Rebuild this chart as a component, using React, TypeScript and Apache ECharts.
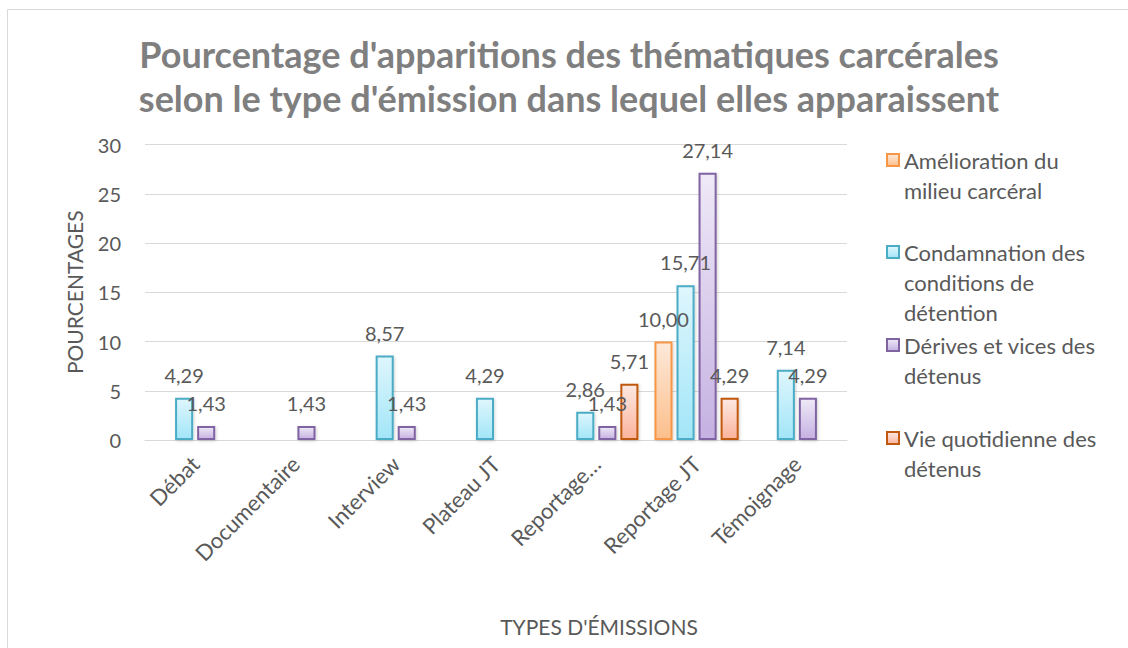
import React, { useEffect, useRef } from "react";
import * as echarts from "echarts";

const categories = ["Débat", "Documentaire", "Interview", "Plateau JT", "Reportage…", "Reportage JT", "Témoignage"];
const seriesNames = [
  "Amélioration du milieu carcéral",
  "Condamnation des conditions de détention",
  "Dérives et vices des détenus",
  "Vie quotidienne des détenus",
];
const legendLabels = [
  "Amélioration du\nmilieu carcéral",
  "Condamnation des\nconditions de\ndétention",
  "Dérives et vices des\ndétenus",
  "Vie quotidienne des\ndétenus",
];
const amelioration = [null, null, null, null, null, 10.0, null];
const condamnation = [4.29, null, 8.57, 4.29, 2.86, 15.71, 7.14];
const derives = [1.43, 1.43, 1.43, null, 1.43, 27.14, 4.29];
const vieQuotidienne = [null, null, null, null, 5.71, 4.29, null];
const yTicks = [0, 5, 10, 15, 20, 25, 30];

const seriesData = [amelioration, condamnation, derives, vieQuotidienne];
const palettes = [
  { border: "#f79646", top: "#fde9da", bottom: "#fcbf8b" },
  { border: "#4bacc6", top: "#dff6fd", bottom: "#a2e6f8" },
  { border: "#8064a2", top: "#efe9f7", bottom: "#c5b1e2" },
  { border: "#c0580f", top: "#fde9e3", bottom: "#fbb39b" },
];

const FONT = "Lato";
const GRAY = "#595959";

export default function App() {
  const ref = useRef<HTMLDivElement>(null);
  useEffect(() => {
    if (!ref.current) return;
    const chart = echarts.init(ref.current, null, { renderer: "svg" });
    const lineH = 30;
    const iconCenters = [160, 252, 345, 438];
    const legends = legendLabels.map((lbl, i) => {
      const n = lbl.split("\n").length;
      const half = ((2 * n - 1) * lineH) / 2;
      const padded = "\n".repeat(n - 1) + lbl;
      return {
        show: true,
        data: [seriesNames[i]],
        left: 886,
        top: iconCenters[i] - half,
        orient: "vertical",
        padding: 0,
        icon: "rect",
        itemWidth: 12,
        itemHeight: 12,
        itemGap: 0,
        selectedMode: false,
        formatter: () => padded,
        textStyle: {
          fontFamily: FONT,
          fontSize: 22,
          color: GRAY,
          lineHeight: lineH,
        },
      };
    });
    chart.setOption({
      animation: false,
      backgroundColor: "#ffffff",
      textStyle: { fontFamily: FONT },
      title: {
        text: "Pourcentage d'apparitions des thématiques carcérales\nselon le type d'émission dans lequel elles apparaissent",
        left: 564,
        top: 27,
        textAlign: "center",
        textStyle: {
          fontFamily: FONT,
          fontSize: 36,
          fontWeight: "bold",
          color: "#7f7f7f",
          lineHeight: 44,
        },
      },
      legend: legends,
      grid: { left: 145, right: 281, top: 144.5, bottom: 208, containLabel: false },
      xAxis: {
        type: "category",
        data: categories,
        axisLine: { lineStyle: { color: "#d9d9d9", width: 1 } },
        axisTick: { show: false },
        axisLabel: {
          interval: 0,
          rotate: 45,
          margin: 20,
          fontFamily: FONT,
          fontSize: 22,
          color: GRAY,
        },
      },
      yAxis: {
        type: "value",
        min: 0,
        max: 30,
        interval: 5,
        name: "POURCENTAGES",
        nameLocation: "middle",
        nameGap: 60,
        nameTextStyle: { fontFamily: FONT, fontSize: 21, color: GRAY },
        axisLine: { show: false },
        axisTick: { show: false },
        splitLine: { lineStyle: { color: "#d9d9d9", width: 1 } },
        axisLabel: {
          margin: 24,
          fontFamily: FONT,
          fontSize: 20,
          color: GRAY,
          formatter: (v: number) => (yTicks.includes(v) ? String(v) : ""),
        },
      },
      graphic: [
        {
          type: "rect",
          shape: { x: 7.5, y: 9.5, width: 1140, height: 660 },
          style: { fill: "none", stroke: "#d9d9d9", lineWidth: 1 },
          silent: true,
        },
        {
          type: "text",
          x: 599,
          y: 626,
          style: {
            text: "TYPES D'ÉMISSIONS",
            fontFamily: FONT,
            fontSize: 21,
            fill: GRAY,
            textAlign: "center",
            textVerticalAlign: "middle",
          },
        },
      ],
      series: seriesData.map((d, i) => ({
        name: seriesNames[i],
        type: "bar",
        data: d,
        barGap: "22%",
        barCategoryGap: "16%",
        itemStyle: {
          color: new echarts.graphic.LinearGradient(0, 0, 0, 1, [
            { offset: 0, color: palettes[i].top },
            { offset: 1, color: palettes[i].bottom },
          ]),
          borderColor: palettes[i].border,
          borderWidth: 2,
          shadowColor: "rgba(0,0,0,0.18)",
          shadowBlur: 3,
          shadowOffsetX: 1,
          shadowOffsetY: 1,
        },
        label: {
          show: true,
          position: "top",
          distance: 13,
          fontFamily: FONT,
          fontSize: 20,
          color: GRAY,
          formatter: (p: any) => (p.value == null ? "" : Number(p.value).toFixed(2).replace(".", ",")),
        },
      })),
    });
    return () => chart.dispose();
  }, []);
  return (
    <div
      ref={ref}
      style={{ position: "fixed", left: 0, top: 0, width: 1128, height: 648 }}
    />
  );
}
